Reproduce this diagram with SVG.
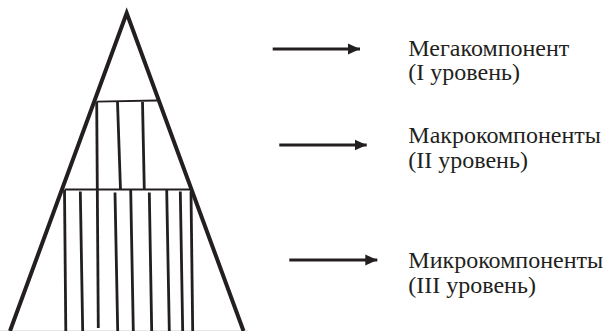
<svg xmlns="http://www.w3.org/2000/svg" width="609" height="331" viewBox="0 0 609 331">
<style>
.tri{fill:none;stroke:#231f20;stroke-width:4;stroke-linejoin:miter;stroke-miterlimit:20}
.h{stroke:#231f20;stroke-width:1.8}
.v{stroke:#231f20;stroke-width:2.8}
.arr{stroke:#231f20;stroke-width:3}
.lbl{font-family:"Liberation Serif","Times New Roman",serif;font-size:24px;fill:#231f20}
</style>
<defs>
<marker id="ah" markerUnits="userSpaceOnUse" markerWidth="14" markerHeight="12" refX="12" refY="6" orient="auto">
<path d="M0,0.5 L12,6 L0,11.5 Z" fill="#231f20"/>
</marker>
</defs>
<rect width="609" height="331" fill="#fff"/>
<line x1="0" y1="330.5" x2="248" y2="330.5" stroke="#e6e6e6" stroke-width="1"/>
<g id="pyramid">
<polyline class="tri" points="10,331 126.7,13 243.5,331"/>
<line class="h" x1="96.5" y1="101.7" x2="157" y2="100.5"/>
<line class="h" x1="64.5" y1="189.5" x2="190.5" y2="189.5"/>
<line class="v" x1="96.7" y1="102" x2="98.3" y2="328"/>
<line class="v" x1="117.5" y1="102" x2="120.5" y2="190"/>
<line class="v" x1="142.5" y1="102" x2="144.3" y2="190"/>
<line class="v" x1="64.5" y1="190" x2="65.8" y2="331"/>
<line class="v" x1="80.3" y1="191.5" x2="82.7" y2="331"/>
<line class="v" x1="115" y1="192.5" x2="117.7" y2="331"/>
<line class="v" x1="130.7" y1="190" x2="133.3" y2="331"/>
<line class="v" x1="149.3" y1="192.5" x2="151.7" y2="331"/>
<line class="v" x1="166.7" y1="190" x2="169.3" y2="331"/>
<line class="v" x1="180.3" y1="191.5" x2="182.7" y2="331"/>
<line class="v" x1="191" y1="191.5" x2="192.7" y2="331"/>
</g>
<g id="connectors">
<line class="arr" x1="272.7" y1="49" x2="360" y2="49" marker-end="url(#ah)"/>
<line class="arr" x1="279.3" y1="145" x2="366.7" y2="145" marker-end="url(#ah)"/>
<line class="arr" x1="289.3" y1="260" x2="377.3" y2="260" marker-end="url(#ah)"/>
</g>
<g id="label-mega">
<text class="lbl" x="408.3" y="56">Мегакомпонент</text>
<text class="lbl" x="408.3" y="80">(I уровень)</text>
</g>
<g id="label-macro">
<text class="lbl" x="408.3" y="143.3">Макрокомпоненты</text>
<text class="lbl" x="408.3" y="168.3">(II уровень)</text>
</g>
<g id="label-micro">
<text class="lbl" x="408.3" y="268.3">Микрокомпоненты</text>
<text class="lbl" x="408.3" y="293.3">(III уровень)</text>
</g>
</svg>
